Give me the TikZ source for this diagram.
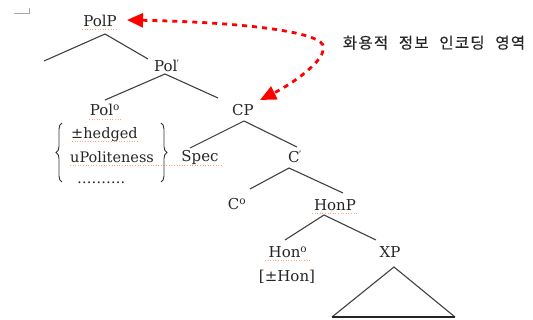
\documentclass[tikz,border=0pt]{standalone}
\usepackage{fontspec}
\setmainfont{DejaVu Serif}
\newfontfamily\kofont[LetterSpace=8,FakeBold=0.6]{Noto Sans CJK KR}
\usetikzlibrary{arrows.meta,decorations.pathreplacing}
\newcommand\kogap{\hspace{6pt} }
\begin{document}
\begin{tikzpicture}[x=1pt,y=-1pt,
  lbl/.style={anchor=base,inner sep=0pt,font=\fontsize{15}{18}\selectfont,text=black!85},
  feat/.style={anchor=base west,inner sep=0pt,font=\fontsize{14.5}{17}\selectfont,text=black!85},
  branch/.style={draw=black!75,line width=1.1pt},
  squiggle/.style={draw=orange!70!red,line width=0.6pt,dotted,opacity=0.55},
  pragarrow/.style={draw=red,line width=2.8pt,dash pattern=on 5pt off 5pt,
    {Triangle[length=16pt,width=14pt]}-{Triangle[length=16pt,width=14pt]}}]
\useasboundingbox (0,0) rectangle (533,320);

% small margin mark in the corner
\draw[black!35,line width=0.6pt] (14,13) -- (29,13) -- (29,8);

% category labels
\node[lbl] (PolP) at (100,26.5) {PolP};
\node[lbl] (Polbar) at (167,72) {Pol\textsuperscript{\kern-1pt\fontsize{9}{9}\selectfont '}};
\node[lbl] (Polhead) at (105,116) {Pol\textsuperscript{o}};
\node[lbl] (CP) at (243,116) {CP};
\node[lbl] (Spec) at (200,162) {Spec};
\node[lbl] (Cbar) at (295,163) {C\textsuperscript{\kern-1pt\fontsize{9}{9}\selectfont '}};
\node[lbl] (Chead) at (237,210) {C\textsuperscript{o}};
\node[lbl] (HonP) at (335,211) {HonP};
\node[lbl] (Honhead) at (288,258) {Hon\textsuperscript{o}};
\node[lbl] (Honfeat) at (287,282) {[±Hon]};
\node[lbl] (XP) at (390,258) {XP};

% feature bundle of Pol
\node[feat] (hedged) at (71,139) {±hedged};
\node[feat] (upol) at (70,163) {uPoliteness};
\node[feat] (etc) at (77,184) {……….};
\draw[black!80,line width=0.9pt,decorate,decoration={brace,amplitude=6pt}]
  (62,182) -- (62,123);
\draw[black!80,line width=0.9pt,decorate,decoration={brace,amplitude=6pt}]
  (161,123) -- (161,182);

% annotation
\node[anchor=base,inner sep=0pt,font=\kofont\fontsize{15.5}{18}\selectfont,text=black!85]
  (area) at (434,48.5) {화용적\kogap 정보\kogap 인코딩\kogap 영역};

% tree branches
\coordinate (PolP-top) at (105,34);
\coordinate (PolP-l) at (44,61);
\coordinate (PolP-r) at (148,59);
\coordinate (Polbar-top) at (165,74);
\coordinate (Polbar-l) at (105,100);
\coordinate (Polbar-r) at (218,98);
\coordinate (CP-top) at (244,121);
\coordinate (CP-l) at (190,148);
\coordinate (CP-r) at (297,147);
\coordinate (Cbar-top) at (289,168);
\coordinate (Cbar-l) at (250,189);
\coordinate (Cbar-r) at (343,193);
\coordinate (HonP-top) at (324,215);
\coordinate (HonP-l) at (285,240);
\coordinate (HonP-r) at (376,240);
\draw[branch] (PolP-l) -- (PolP-top) -- (PolP-r);
\draw[branch] (Polbar-l) -- (Polbar-top) -- (Polbar-r);
\draw[branch] (CP-l) -- (CP-top) -- (CP-r);
\draw[branch] (Cbar-l) -- (Cbar-top) -- (Cbar-r);
\draw[branch] (HonP-l) -- (HonP-top) -- (HonP-r);

% XP triangle
\coordinate (XP-top) at (394,267);
\coordinate (XP-l) at (332,317);
\coordinate (XP-r) at (455,317);
\draw[branch] (XP-l) -- (XP-top) -- (XP-r);
\draw[black!85,line width=1.8pt] (XP-l) -- (XP-r);

% spell-check squiggles
\draw[squiggle] (82,29.5) -- (118,29.5);
\draw[squiggle] (89,119) -- (122,119);
\draw[squiggle] (72,141) -- (138,141);
\draw[squiggle] (70,165) -- (222,165);
\draw[squiggle] (312,213.5) -- (358,213.5);
\draw[squiggle] (265,260.5) -- (310,260.5);

% pragmatic encoding arrow
\coordinate (arrL) at (127,20);
\coordinate (arrR) at (260,100);
\draw[pragarrow] (arrL) .. controls (230,22) and (315,30) .. (323,45)
  .. controls (328,60) and (290,85) .. (arrR);
\end{tikzpicture}
\end{document}
